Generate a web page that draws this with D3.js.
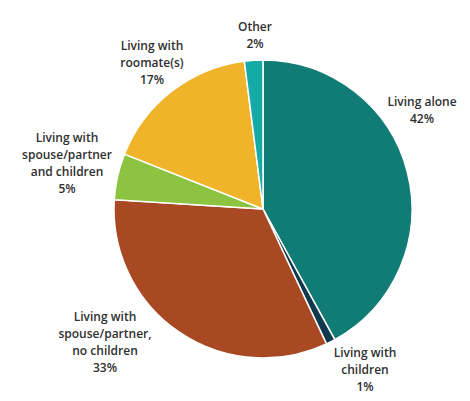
<!DOCTYPE html>
<html>
<head>
<meta charset="utf-8">
<script src="https://cdn.jsdelivr.net/npm/d3@7"></script>
<style>
  body { margin: 0; background: #fff; }
  text { font-family: "Open Sans", sans-serif; font-size: 12px; fill: #2f2f2f; }
</style>
</head>
<body>
<div id="chart"></div>
<script>
// living arrangements, clockwise from 12 o'clock
const categories = ['Living alone', 'Living with children', 'Living with spouse/partner, no children',
  'Living with spouse/partner and children', 'Living with roomate(s)', 'Other'];
const values = [42, 1, 33, 5, 17, 2];
const labelLines = [
  ['Living alone', '42%'],
  ['Living with', 'children', '1%'],
  ['Living with', 'spouse/partner,', 'no children', '33%'],
  ['Living with', 'spouse/partner', 'and children', '5%'],
  ['Living with', 'roomate(s)', '17%'],
  ['Other', '2%']
];
const colors = ['#117b75', '#0f3a4e', '#a94924', '#8cc341', '#efb42a', '#15aaa5'];

const width = 470, height = 401;
const cx = 263, cy = 209, radius = 149;

// where each label block sits (top line centre)
const labelPos = [
  [422, 106], [365, 357], [105, 321], [67, 142], [152, 50], [255, 31]
];

const svg = d3.select('#chart')
  .append('svg')
  .attr('width', width)
  .attr('height', height);

const g = svg.append('g')
  .attr('transform', `translate(${cx},${cy})`);

const pie = d3.pie().sort(null).value(d => d);
const arc = d3.arc().innerRadius(0).outerRadius(radius);

g.selectAll('path')
  .data(pie(values))
  .enter()
  .append('path')
  .attr('d', arc)
  .attr('fill', (d, i) => colors[i])
  .attr('stroke', '#fff')
  .attr('stroke-width', 1.5);

// labels
const lab = svg.selectAll('.lab')
  .data(labelLines)
  .enter()
  .append('text')
  .attr('class', 'lab')
  .attr('text-anchor', 'middle')
  .attr('font-weight', 600)
  .attr('transform', (d, i) => `translate(${labelPos[i][0]},${labelPos[i][1]})`);

lab.selectAll('tspan')
  .data(d => d)
  .enter()
  .append('tspan')
  .attr('x', 0)
  .attr('y', (d, i) => i * 17)
  .text(d => d);
</script>
</body>
</html>
